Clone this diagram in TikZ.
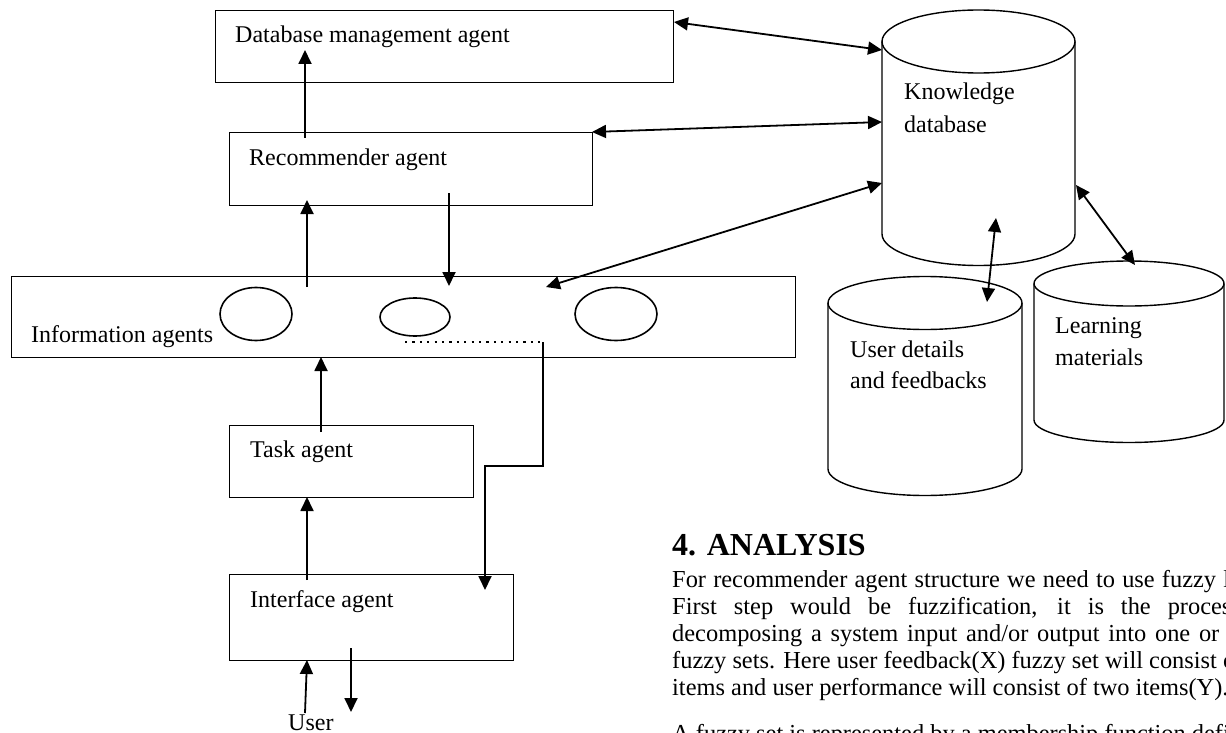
\documentclass[tikz,border=0pt]{standalone}
\usepackage{fontspec}
\setmainfont{Liberation Serif}
\usetikzlibrary{arrows.meta}
\tikzset{
  box/.style={draw, line width=1.4pt, inner sep=0pt, anchor=north west},
  lbl/.style={inner sep=0pt, anchor=base west, font=\fontsize{24}{32}\selectfont},
  para/.style={inner sep=0pt, anchor=base west, font=\fontsize{24.4}{27}\selectfont},
  head/.style={inner sep=0pt, anchor=base west, font=\fontsize{32}{36}\selectfont\bfseries},
  cylline/.style={line width=1.4pt},
  arr/.style={line width=1.8pt, -{Triangle[length=14pt,width=13pt]}},
  darr/.style={line width=1.8pt, {Triangle[length=14pt,width=13pt]}-{Triangle[length=14pt,width=13pt]}},
  dots/.style={line width=2.2pt, dash pattern=on 2.2pt off 5.2pt},
  agent/.style={line width=1.6pt}
}
\begin{document}
\begin{tikzpicture}[x=1pt,y=-1pt]
\useasboundingbox (0,0) rectangle (1226,733);
\clip (0,0) rectangle (1226,733);

% boxes
\node[box, minimum width=458pt, minimum height=72pt] (dbm) at (215,10) {};
\node[box, minimum width=363pt, minimum height=73pt] (rec) at (229,132) {};
\node[box, minimum width=784pt, minimum height=81pt] (info) at (11,276) {};
\node[box, minimum width=244pt, minimum height=72pt] (task) at (229,425) {};
\node[box, minimum width=284pt, minimum height=86pt] (iface) at (229,574) {};

\node[lbl] (dbmt) at (235,43) {Database management agent};
\node[lbl] (rect) at (249,165) {Recommender agent};
\node[lbl] (infot) at (31,342) {Information agents};
\node[lbl] (taskt) at (250,457) {Task agent};
\node[lbl] (ifacet) at (250,607) {Interface agent};
\node[lbl] (user) at (288,730) {User};

% agents inside the information box
\draw[agent] (256,314) ellipse [x radius=36pt, y radius=26.5pt];
\draw[agent] (415,317) ellipse [x radius=35pt, y radius=19pt];
\draw[agent] (616,314) ellipse [x radius=41pt, y radius=26.5pt];

% Knowledge database
\draw[cylline] (978.5,41.5) ellipse [x radius=96.5pt, y radius=31.5pt];
\draw[cylline] (882,41.5) -- (882,234) arc[start angle=180, end angle=360, x radius=96.5pt, y radius=31.5pt] -- (1075,41.5);
\node[lbl] (kb1) at (904,100) {Knowledge};
\node[lbl] (kb2) at (904,133) {database};
% User details
\draw[cylline] (925,303) ellipse [x radius=97pt, y radius=26.5pt];
\draw[cylline] (828,303) -- (828,469) arc[start angle=180, end angle=360, x radius=97pt, y radius=26.5pt] -- (1022,303);
\node[lbl] (ud1) at (850,357) {User details};
\node[lbl] (ud2) at (850,388) {and feedbacks};
% Learning materials
\draw[cylline] (1129,283.5) ellipse [x radius=95pt, y radius=22.5pt];
\draw[cylline] (1034,283.5) -- (1034,420) arc[start angle=180, end angle=360, x radius=95pt, y radius=22.5pt] -- (1224,283.5);
\node[lbl] (lm1) at (1055,333) {Learning};
\node[lbl] (lm2) at (1055,365) {materials};

% connector end points
\coordinate (kbA) at (882,50);
\coordinate (dbmA) at (674,22);
\coordinate (kbB) at (882,122);
\coordinate (recB) at (592,132);
\coordinate (kbC) at (882,183);
\coordinate (infoC) at (546,287);
\coordinate (kbD) at (996,218);
\coordinate (udD) at (987,302);
\coordinate (kbE) at (1076,185);
\coordinate (lmE) at (1135,265);
\coordinate (recUp1) at (305,138);
\coordinate (dbmIn) at (305,50);
\coordinate (infoUp) at (307,287);
\coordinate (recIn) at (307,200);
\coordinate (recDown) at (449,193);
\coordinate (infoIn) at (449,286);
\coordinate (taskUp) at (321,432);
\coordinate (infoBot) at (321,357);
\coordinate (ifaceUp) at (307,580);
\coordinate (taskBot) at (307,497);
\coordinate (dotA) at (405,342);
\coordinate (dotB) at (543,342);
\coordinate (bend1) at (543,466);
\coordinate (bend2) at (485,466);
\coordinate (ifaceIn) at (485,590);
\coordinate (userUp) at (305,713);
\coordinate (ifaceBot) at (307,660);
\coordinate (ifaceOut) at (351,648);
\coordinate (userDown) at (351,712);

\draw[darr] (dbmA) -- (kbA);
\draw[darr] (recB) -- (kbB);
\draw[darr] (infoC) -- (kbC);
\draw[darr] (kbD) -- (udD);
\draw[darr] (kbE) -- (lmE);
\draw[arr] (recUp1) -- (dbmIn);
\draw[arr] (infoUp) -- (recIn);
\draw[arr] (recDown) -- (infoIn);
\draw[arr] (taskUp) -- (infoBot);
\draw[arr] (ifaceUp) -- (taskBot);
\draw[dots] (dotA) -- (dotB);
\draw[arr] (dotB) -- (bend1) -- (bend2) -- (ifaceIn);
\draw[arr] (userUp) -- (ifaceBot);
\draw[arr] (ifaceOut) -- (userDown);

% text of the page
\node[head] (h) at (672,555) {4. ANALYSIS};
\node[para] (p1) at (672,587) {\makebox[606pt][s]{For recommender agent structure we need to use fuzzy logic.}};
\node[para] (p2) at (672,614) {\makebox[606pt][s]{First step would be fuzzification, it is the process of}};
\node[para] (p3) at (672,641) {\makebox[606pt][s]{decomposing a system input and/or output into one or more}};
\node[para] (p4) at (672,668) {fuzzy sets. Here user feedback(X) fuzzy set will consist of three};
\node[para] (p5) at (672,695) {items and user performance will consist of two items(Y).};
\node[para] (p6) at (672,741) {A fuzzy set is represented by a membership function defined};
\end{tikzpicture}
\end{document}
